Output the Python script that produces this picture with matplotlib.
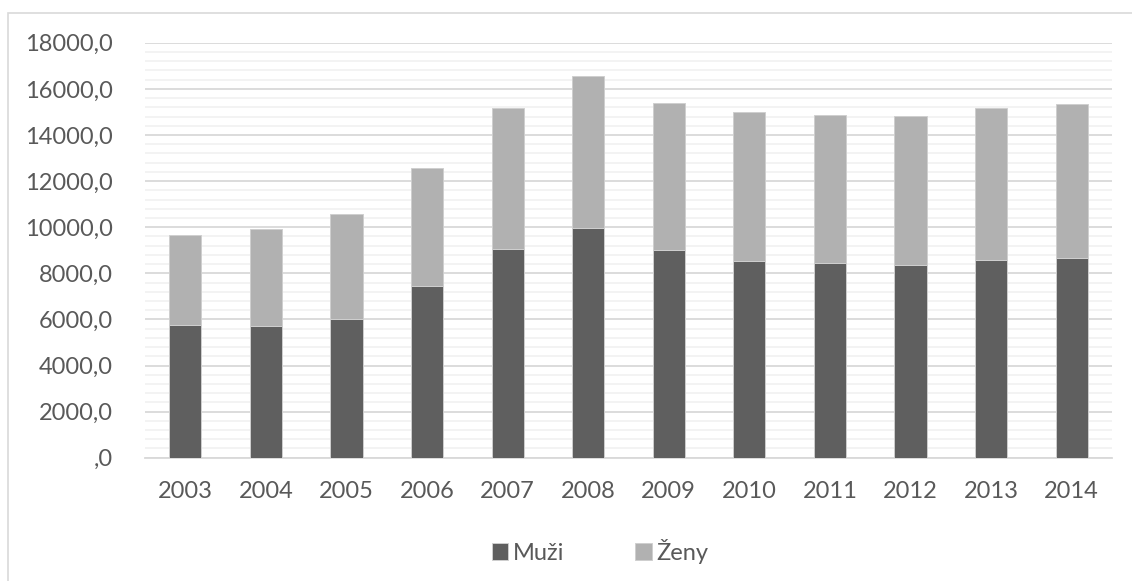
import matplotlib.pyplot as plt
import matplotlib.patches as mpatches
from matplotlib.ticker import MultipleLocator, FuncFormatter
import numpy as np

years = ["2003", "2004", "2005", "2006", "2007", "2008",
         "2009", "2010", "2011", "2012", "2013", "2014"]
muzi = [5744, 5727, 6031, 7462, 9054, 9966, 8998, 8534, 8447, 8360, 8577, 8664]
celkem = [9648, 9935, 10590, 12555, 15158, 16547, 15388, 15011, 14881, 14824, 15185, 15358]
zeny = [c - m for c, m in zip(celkem, muzi)]

plt.rcParams['font.family'] = ['Lato', 'DejaVu Sans']
txt = '#595959'

fig = plt.figure(figsize=(11.32, 5.81), dpi=100)
ax = fig.add_axes([145/1132, 1-457.7/581, (1112-145)/1132, (457.7-42.8)/581])

# outer chart border
fig.patches.append(mpatches.Rectangle((8/1132, -0.1), 1.2, 1-13/581+0.1,
                                      transform=fig.transFigure, fill=False,
                                      edgecolor='#d9d9d9', linewidth=1.2))

x = np.arange(len(years))
ax.bar(x, muzi, width=0.4, color='#5f5f5f', edgecolor='#cfcfcf', linewidth=0.7,
       label='Muži', zorder=3)
ax.bar(x, zeny, width=0.4, bottom=muzi, color='#b1b1b1', edgecolor='#cfcfcf',
       linewidth=0.7, label='Ženy', zorder=3)

ax.set_xlim(-0.5, len(years) - 0.5)
ax.set_ylim(0, 18000)
ax.yaxis.set_major_locator(MultipleLocator(2000))
ax.yaxis.set_minor_locator(MultipleLocator(400))

def fmt(v, pos):
    s = f"{v:.1f}".replace('.', ',')
    return s[1:] if s.startswith('0,') else s

ax.yaxis.set_major_formatter(FuncFormatter(fmt))
ax.grid(which='major', axis='y', color='#d9d9d9', linewidth=1.3, zorder=0)
ax.grid(which='minor', axis='y', color='#f2f2f2', linewidth=1.3, zorder=0)
ax.set_axisbelow(True)

for s in ['top', 'right', 'left']:
    ax.spines[s].set_visible(False)
ax.spines['bottom'].set_color('#d9d9d9')
ax.spines['bottom'].set_linewidth(1.3)

ax.set_xticks(x)
ax.set_xticklabels(years)
ax.tick_params(axis='x', length=0, pad=17, labelsize=17, labelcolor=txt)
ax.tick_params(axis='y', which='both', length=0, pad=23, labelsize=17, labelcolor=txt)

h, l = ax.get_legend_handles_labels()
fig.legend(h, l, loc='center', bbox_to_anchor=(0.53, 1-551/581), ncol=2, frameon=False,
           fontsize=17, labelcolor=txt, handlelength=0.7, handleheight=0.7,
           handletextpad=0.2, columnspacing=3.0)

fig.savefig('out.png', dpi=100)
